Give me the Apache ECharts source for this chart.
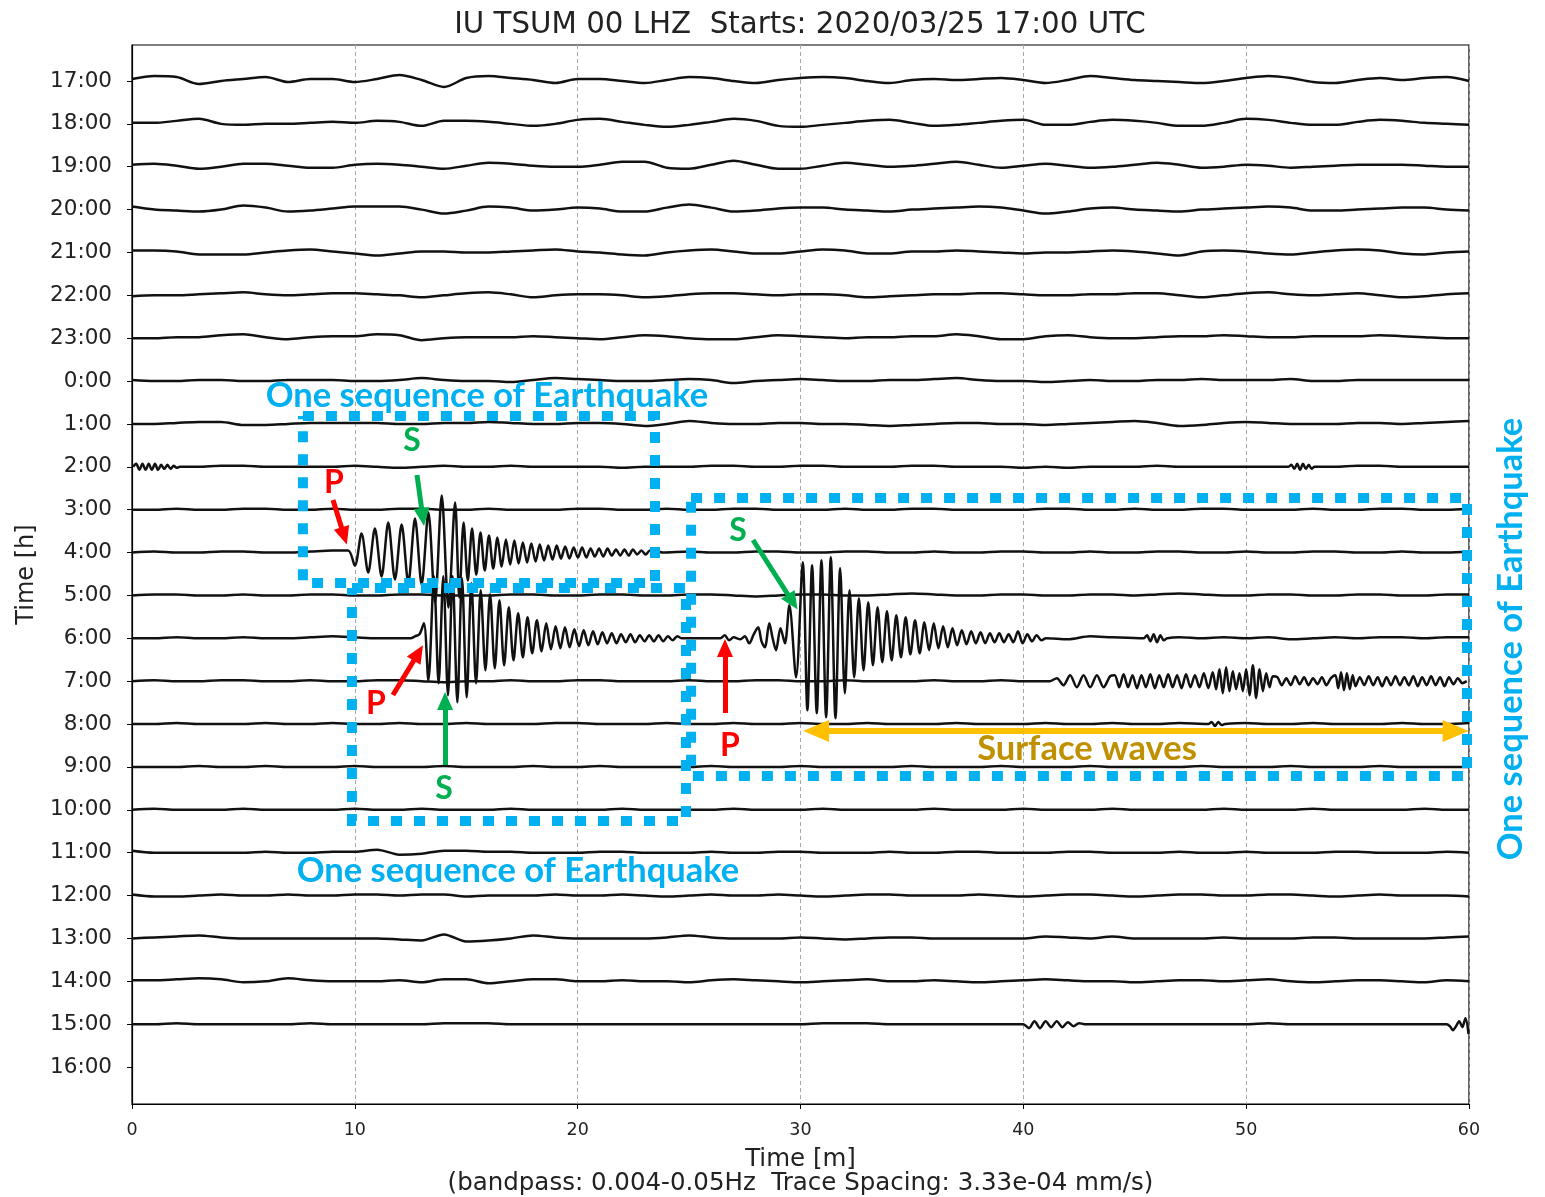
<!DOCTYPE html>
<html>
<head>
<meta charset="utf-8">
<title>IU TSUM 00 LHZ helicorder</title>
<script src="https://cdn.jsdelivr.net/npm/echarts@6/dist/echarts.min.js"></script>
<style>
  html, body { margin: 0; padding: 0; background: #fff; }
  #chart { width: 1545px; height: 1197px; }
</style>
</head>
<body>
<div id="chart"></div>
<script>
// hourly rows of the helicorder, top to bottom
const hourLabels = ['17:00','18:00','19:00','20:00','21:00','22:00','23:00','0:00','1:00','2:00','3:00','4:00',
  '5:00','6:00','7:00','8:00','9:00','10:00','11:00','12:00','13:00','14:00','15:00','16:00'];

// distance between two rows in amplitude units (= 3.33e-04 mm/s)
const SPACING = 42.87;

// slow background of each row, one value per minute (0..60)
const tr1700 = [2,5,4,-3,0,2,4,-1,2,2, -1,2,6,1,-6,3,5,3,1,-2, 2,2,0,-2,1,4,3,0,-2,1, 3,4,3,0,-2,1,2,1,2,3, 1,-2,1,5,3,1,0,-1,-2,0, 3,5,3,-1,-2,1,3,1,3,4, 0];
const tr1800 = [1,1,3,5,0,-1,0,0,1,2, 1,3,2,-2,3,3,2,0,-2,0, 4,5,2,-1,-3,-1,2,5,3,-2, -3,-1,1,3,4,1,-2,-1,1,3, 4,-1,-1,2,4,3,1,-2,-2,1, 5,4,1,-1,-1,2,4,3,1,0, -1];
const tr1900 = [2,3,1,-2,0,3,3,1,-1,-1, 2,3,2,0,-2,1,4,3,1,0, 0,2,5,5,-1,-2,2,6,2,-2, -2,1,4,2,0,1,3,5,2,-1, 1,3,1,-1,0,2,4,2,-1,0, 2,1,-1,0,1,2,2,2,1,0, 0];
const tr2000 = [3,0,-1,-2,0,4,2,-2,-1,1, 3,3,3,0,-4,-1,3,2,-1,0, 2,1,-2,-2,2,5,2,-2,-1,1, 2,2,0,-1,-2,0,1,2,3,2, -1,-4,-2,1,2,0,-1,-2,0,1, 2,3,2,-1,-1,0,1,2,2,0, -1];
const tr2100 = [2,2,1,-2,-2,-2,0,2,3,1, -1,-3,-1,1,1,0,0,1,2,3, 1,0,-2,-3,0,2,3,1,-1,-1, 1,3,2,-1,-1,1,1,2,1,0, -1,0,0,1,2,1,-1,-3,1,2, 1,-1,-2,0,2,3,2,-1,-2,0, 1];
const tr2200 = [-1,0,0,1,2,3,1,0,1,2, 2,1,0,-2,0,2,3,1,-2,0, 1,1,0,-2,-1,1,2,2,1,0, 1,1,0,-2,-1,0,1,1,2,2, 1,0,0,1,1,2,2,0,-2,0, 2,3,1,0,1,2,0,-2,-1,1, 2];
const tr2300 = [0,0,1,1,3,4,1,-1,1,2, 2,4,3,-2,0,1,1,1,2,1, 0,-1,1,3,2,0,-1,-1,1,3, 2,1,0,1,1,2,2,4,2,-1, -1,2,3,1,0,0,1,2,2,3, 2,1,1,2,2,2,3,2,1,0, 0];
const tr0000 = [1,0,0,1,1,0,0,1,1,1, 0,0,1,3,1,0,0,-1,1,3, 2,1,0,0,1,2,1,-2,0,1, 2,1,0,0,1,1,2,3,1,0, 0,-1,0,1,0,0,1,1,2,1, 1,1,2,0,0,1,1,1,1,1, 1];
const tr0100 = [0,0,1,2,2,-1,-1,0,1,1, 1,1,0,0,1,1,2,1,0,0, 1,1,0,-2,0,3,1,0,0,1, 1,0,0,-1,-2,-1,0,1,1,0, 0,-1,0,1,2,3,1,-2,-1,1, 2,1,0,0,0,1,1,0,1,2, 3];
const tr0200 = [0,0,0,0,1,1,0,0,0,0, 1,0,-1,0,1,0,0,1,0,0, 0,0,-1,0,0,0,1,1,0,0, 1,1,0,0,0,1,1,0,0,0, -1,0,-1,0,0,0,1,0,0,0, 0,0,0,0,0,1,1,0,0,0, 0];
const tr0300 = [0,0,1,0,0,1,1,0,0,1, 0,0,1,1,0,0,1,0,0,0, 1,1,0,0,1,0,0,1,1,0, 0,0,1,0,0,1,1,0,0,0, 0,1,1,0,0,1,0,0,1,1, 0,0,0,1,0,0,1,1,0,0, 1];
const tr0400 = [0,1,0,0,1,1,0,0,1,2, 0,0,0,0,0,0,0,0,0,0, 0,0,0,0,0,1,0,0,1,1, 0,0,1,1,0,0,1,0,0,1, 1,0,0,1,0,0,1,1,0,0, 1,0,0,1,1,0,0,1,0,0, 1];
const tr0500 = [0,1,1,0,0,1,0,0,1,1, 0,0,1,1,0,0,0,1,1,0, 0,1,1,0,0,1,1,0,-1,0, 1,1,0,0,1,2,1,0,0,1, 1,0,0,1,1,0,1,2,1,0, 0,1,1,0,0,1,1,0,0,1, 1];
const tr0600 = [0,0,1,0,0,1,0,0,1,2, 1,0,1,0,0,0,0,0,0,0, 0,0,0,0,0,0,1,0,0,0, 0,0,0,0,0,0,0,0,0,0, 0,1,-1,2,1,-1,2,1,0,1, 0,1,-1,0,1,0,1,1,0,1, 1];
const tr0700 = [0,1,0,0,1,1,0,0,1,0, 0,1,1,0,-1,0,0,1,0,0, 1,1,0,0,0,1,0,0,1,1, 0,0,1,0,0,0,1,0,0,1, 0,0,0,0,0,0,0,0,0,0, 0,0,0,0,0,0,0,0,0,0, 0];
const tr0800 = [0,0,1,0,0,0,1,0,0,1, 0,0,1,0,0,1,0,0,0,1, 1,0,0,0,1,0,0,1,0,0, 1,0,0,1,0,0,0,1,0,0, 0,1,0,0,1,0,0,1,0,0, 1,0,0,1,0,0,0,1,0,0, 1];
const tr0900 = [0,0,0,1,0,0,1,0,0,0, 1,0,0,0,1,0,0,0,1,0, 0,1,0,0,0,0,1,0,0,0, 1,0,0,0,0,1,0,0,0,1, 0,0,0,1,0,0,0,0,1,0, 0,0,1,0,0,0,1,0,0,0, 0];
const tr1000 = [0,1,0,0,0,1,0,0,0,0, 1,0,0,1,0,0,0,1,0,0, 0,0,1,0,0,0,0,1,0,0, 0,1,0,0,0,0,1,0,0,0, 1,0,0,0,1,0,0,0,0,1, 0,0,0,1,0,0,0,0,1,0, 0];
const tr1100 = [2,0,0,0,0,0,1,0,0,1, 1,3,-2,-1,2,2,1,1,0,0, 0,1,1,0,0,0,1,0,0,1, 1,0,0,0,1,0,0,1,1,0, 0,0,1,1,0,0,0,1,0,0, 1,0,0,0,1,1,0,0,0,1, 0];
const tr1200 = [1,-1,-1,0,1,0,0,1,0,0, 1,1,0,1,1,-1,0,0,0,1, 0,0,1,0,-1,0,1,0,0,1, 0,-1,0,1,1,0,0,0,1,0, -1,0,1,1,0,-1,0,1,1,0, 0,1,1,0,-1,0,1,0,0,0, -1];
const tr1300 = [0,1,2,3,1,0,0,0,0,0, 0,0,-1,-2,4,-3,-2,0,3,1, 0,0,0,0,1,3,1,0,0,0, 1,0,-1,0,1,1,0,0,0,0, 0,2,1,0,2,0,0,0,0,1, 0,0,0,1,1,0,0,0,0,1, 2];
const tr1400 = [1,1,2,3,2,-1,0,3,1,0, 0,0,1,-1,2,2,-2,0,2,2, 0,0,1,0,0,-1,1,2,1,0, -1,0,1,2,0,0,1,0,-1,0, 1,2,1,0,0,-1,0,1,1,0, 1,2,0,-1,0,1,1,0,-1,1, 0];
const tr1500 = [0,0,1,0,0,0,0,0,1,0, 0,0,0,0,1,1,1,0,0,0, 0,0,0,0,0,0,0,0,0,0, 0,1,1,1,0,0,0,0,0,0, 0,0,0,0,0,0,0,0,0,0, 0,1,0,0,0,0,0,0,0,0, 0];

const backgrounds = [tr1700, tr1800, tr1900, tr2000, tr2100, tr2200, tr2300, tr0000, tr0100, tr0200, tr0300, tr0400,
  tr0500, tr0600, tr0700, tr0800, tr0900, tr1000, tr1100, tr1200, tr1300, tr1400, tr1500];

// wave trains: successive extrema
const ev0200a = [0,3,-3,3,-3,3,-3,3,-3,2,-2,2,-2,1,-1,0];
const ev0200b = [0,2,-2,3,-3,3,-2,2,-2,0];
const ev0400a = [2,-13,19,-20,24,-24,30,-27,28,-30,34,-32,40,-50,57,-55,50];
const ev0400b = [-45,30,-28,24,-22,20,-18,17,-16,15,-14,13,-12,12,-11,10,-10,9,-9,8,-8,7,-7,7,-6,6,-6,5,-5,5,-5,4,-4,4,-4,4,-3,3,-3,3,-3,3,-2,2,-2,2,-2,1,0];
const ev0600p = [0,2,4,15,-42];
const ev0600a = [62,-45,62,-57,62,-64,60,-59,55,-45,48,-32,44,-30,38,-27,31,-22,25,-19,21,-15,18,-13,15,-11,12,-10,11,-9,9,-8,8,-7,7,-6,6,-5,5,-5,4,-4,4,-4,3,-3,3,-3,3,-3,2,-2,2,0];
const ev0600pre = [[26.4,0],[26.6,3],[26.8,-2],[27.0,1],[27.3,-1],[27.5,2],[27.7,-5],[27.9,4],[28.1,11],[28.25,-3],[28.4,-9],[28.6,15],[28.75,0],[28.9,-12],[29.1,10],[29.3,-5],[29.5,33],[29.8,-39]];
const ev0600b = [76,-72,73,-75,78,-79,81,-80,70,-55,48,-39,40,-32,36,-27,31,-24,27,-22,23,-19,21,-16,18,-15,16,-12,15,-10,12,-9,10,-7,8,-6,7,-5,6,-5,5,-4,5,-4,4,-4,7,-5,4,-3,3,-2,0];
const ev0600c = [0,3,-3,4,-4,3,-2,0];
const ev0700a = [0,3,-4,6,-6,6,-6,6,-6,5];
const ev0700b = [6,-6,7,-6,6,-7,6,-6,7,-7,6,-6,7,-6,6,-7,7,-6,6,-6,8,-7];
const ev0700c = [9,-8,12,-12,14,-10,10,-8,8,-10,12,-14,16,-17,12,-10,8,-6,5];
const ev0700d = [4,-4,3,-4,5,-3,4,-4,3,-3,4,-4,3];
const ev0700e = [6,-7,9,-9,8,-8,6,-5];
const ev0700f = [4,-4,5,-4,4,-5,4,-4,5,-4,4,-4,5,-5,4,-4,5,-4,4,-5,4,-3,3,-2,0];
const ev0800a = [0,2,-2,2,-1,0];
const ev1500a = [0,-4,3,-4,3,-3,3,-3,2,-2,1,0];
const ev1500b = [0,-2,-6,-2,3,-3,6,-10];

const segments = [
  { row: 9, start: 0.05, step: 0.14, values: ev0200a },
  { row: 9, start: 51.9, step: 0.13, values: ev0200b },
  { row: 11, start: 9.7, step: 0.3, values: ev0400a },
  { row: 11, start: 14.69, step: 0.19, values: ev0400b },
  { row: 13, start: 12.5, step: 0.2, values: ev0600p },
  { row: 13, start: 13.55, step: 0.21, values: ev0600a },
  { row: 13, values: ev0600pre },
  { row: 13, start: 30.1, step: 0.21, values: ev0600b },
  { row: 13, start: 45.4, step: 0.15, values: ev0600c },
  { row: 14, start: 41.2, step: 0.3, values: ev0700a },
  { row: 14, start: 44.1, step: 0.2, values: ev0700b },
  { row: 14, start: 48.5, step: 0.15, values: ev0700c },
  { row: 14, start: 51.4, step: 0.2, values: ev0700d },
  { row: 14, start: 54.0, step: 0.13, values: ev0700e },
  { row: 14, start: 55.1, step: 0.2, values: ev0700f },
  { row: 15, start: 48.3, step: 0.15, values: ev0800a },
  { row: 22, start: 40.0, step: 0.25, values: ev1500a },
  { row: 22, start: 59.0, step: 0.14, values: ev1500b }
];

// annotations (minutes, amplitude units)
const boxOne = [[7.67,-335],[23.47,-335],[23.47,-502],[7.67,-502],[7.67,-335]];
const boxTwo = [[9.87,-507],[24.86,-507],[24.86,-740],[9.87,-740],[9.87,-507]];
const boxThree = [[25.09,-417],[59.91,-417],[59.91,-695],[25.09,-695],[25.09,-417]];
const pArrows = [[[9.02,-419],[9.52,-455]], [[11.71,-614],[12.85,-572]], [[26.61,-632],[26.61,-567]]];
const sArrows = [[[12.79,-394],[13.05,-436]], [[14.05,-684],[14.05,-620]], [[27.87,-459],[29.65,-521]]];
const surfaceArrow = [[30.7,-650],[59.4,-650]];

function buildRow(i) {
  const segs = segments.filter(s => s.row === i).map(s =>
    Array.isArray(s.values[0]) ? s.values : s.values.map((v, k) => [s.start + k * s.step, v]));
  const spans = segs.map(p => [p[0][0], p[p.length - 1][0]]);
  const pts = [];
  backgrounds[i].forEach((v, m) => {
    if (!spans.some(([a, b]) => m >= a - 0.5 && m <= b + 0.5)) pts.push([m, v]);
  });
  segs.forEach(p => pts.push(...p));
  pts.sort((a, b) => a[0] - b[0]);
  return pts.map(([m, v]) => [m, -i * SPACING + v]);
}

const chart = echarts.init(document.getElementById('chart'));
const font = 'DejaVu Sans';
const tickVals = hourLabels.map((_, i) => -i * SPACING);

const traceSeries = backgrounds.map((_, i) => ({
  type: 'line',
  data: buildRow(i),
  symbol: 'none',
  smooth: 0.3,
  silent: true,
  lineStyle: { color: '#111', width: 2.5 },
  z: 2
}));

const boxStyle = { color: '#00b0f0', width: 10, type: [11, 12], cap: 'butt', join: 'miter' };
const boxSeries = [boxOne, boxTwo, boxThree].map(b => ({
  type: 'line', data: b, symbol: 'none', silent: true, lineStyle: boxStyle, z: 5
}));

function arrowSeries(list, color, width, symbols, size) {
  return {
    type: 'line', data: [], silent: true, z: 6,
    markLine: {
      silent: true, animation: false,
      symbol: symbols, symbolSize: size,
      label: { show: false },
      lineStyle: { color: color, width: width, type: 'solid' },
      emphasis: { disabled: true },
      data: list.map(([a, b]) => [{ coord: a }, { coord: b }])
    }
  };
}

const annoFont = 'Lato';
function label(text, x, y, color, size, rot) {
  return {
    type: 'text', x: x, y: y, rotation: rot || 0, z: 100,
    style: {
      text: text, fill: color, fontFamily: annoFont, fontWeight: 'bold', fontSize: size,
      align: 'center', verticalAlign: 'middle', textAlign: 'center', textVerticalAlign: 'middle'
    }
  };
}

chart.setOption({
  animation: false,
  backgroundColor: '#fff',
  title: {
    text: 'IU TSUM 00 LHZ  Starts: 2020/03/25 17:00 UTC',
    left: 795, top: 6, textAlign: 'center',
    textStyle: { fontFamily: font, fontSize: 29.3, fontWeight: 'normal', color: '#222' }
  },
  grid: {
    left: 132, right: 76, top: 45, bottom: 93, outerBoundsMode: 'none',
    show: true, borderColor: '#000', borderWidth: 1.2, backgroundColor: '#fff'
  },
  xAxis: {
    type: 'value', min: 0, max: 60, interval: 10,
    axisLine: { show: true, onZero: false, lineStyle: { color: '#000', width: 1.2 } },
    axisTick: { show: true, length: 5, lineStyle: { color: '#000' } },
    axisLabel: { fontFamily: font, fontSize: 17.5, color: '#222', margin: 17 },
    splitLine: { show: true, lineStyle: { color: '#a8a8a8', width: 1, type: [4, 3] } },
    name: 'Time [m]\n(bandpass: 0.004-0.05Hz  Trace Spacing: 3.33e-04 mm/s)',
    nameLocation: 'middle', nameGap: 44,
    nameTextStyle: { fontFamily: font, fontSize: 24.5, lineHeight: 24, color: '#222' }
  },
  yAxis: {
    type: 'value', min: -1023, max: 36,
    axisLine: { show: true, onZero: false, lineStyle: { color: '#000', width: 1.2 } },
    axisTick: { show: true, length: 5, customValues: tickVals, lineStyle: { color: '#000' } },
    axisLabel: {
      customValues: tickVals, fontFamily: font, fontSize: 21.5, color: '#222', margin: 20,
      formatter: v => hourLabels[Math.round(-v / SPACING)]
    },
    splitLine: { show: false },
    name: 'Time [h]', nameLocation: 'middle', nameGap: 93,
    nameTextStyle: { fontFamily: font, fontSize: 24, color: '#222' }
  },
  series: [
    ...traceSeries,
    ...boxSeries,
    arrowSeries(pArrows, '#ff0000', 5, ['none', 'triangle'], [16, 18]),
    arrowSeries(sArrows, '#00b050', 5, ['none', 'triangle'], [16, 18]),
    arrowSeries([surfaceArrow], '#ffc000', 6, ['triangle', 'triangle'], [22, 26])
  ],
  graphic: [
    label('One sequence of Earthquake', 487, 396, '#00b0f0', 34.5),
    label('One sequence of Earthquake', 518, 871, '#00b0f0', 34.5),
    label('One sequence of Earthquake', 1511, 639, '#00b0f0', 34.5, Math.PI / 2),
    label('P', 334, 483, '#ff0000', 32),
    label('P', 376, 704, '#ff0000', 32),
    label('P', 730, 746, '#ff0000', 32),
    label('S', 412, 441, '#00b050', 32),
    label('S', 444, 789, '#00b050', 32),
    label('S', 738, 531, '#00b050', 32),
    label('Surface waves', 1087, 749, '#bf9000', 34.5)
  ]
});
</script>
</body>
</html>
